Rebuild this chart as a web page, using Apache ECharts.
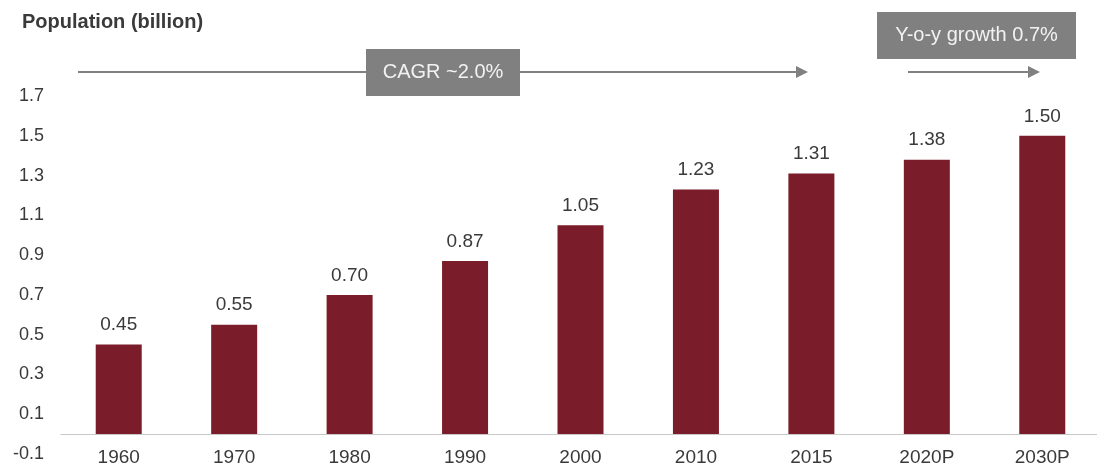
<!DOCTYPE html>
<html><head><meta charset="utf-8">
<script src="https://cdn.jsdelivr.net/npm/echarts@6/dist/echarts.min.js"></script>
<style>html,body{margin:0;padding:0;background:#fff}#c{width:1097px;height:467px}</style>
</head><body><div id="c"></div>
<script>
var categories = ['1960','1970','1980','1990','2000','2010','2015','2020P','2030P'];
var population = [0.45,0.55,0.70,0.87,1.05,1.23,1.31,1.38,1.50];
var yTicks = {min:-0.1, max:1.7, interval:0.2};
var titleText = 'Population (billion)';
var cagrText = 'CAGR ~2.0%';
var yoyText = 'Y-o-y growth 0.7%';

var chart = echarts.init(document.getElementById('c'));
var font = 'Liberation Sans, Arial, sans-serif';
var gray = '#808080';
var txt = '#3a3a3a';
function arrow(x1, x2, y) {
  return [
    {type:'line', shape:{x1:x1,y1:y,x2:x2-10,y2:y}, style:{stroke:gray,lineWidth:2}},
    {type:'polygon', shape:{points:[[x2-12,y-6],[x2,y],[x2-12,y+6]]}, style:{fill:gray}}
  ];
}
function box(x, y, w, h, t) {
  return {type:'group', x:x, y:y, children:[
    {type:'rect', shape:{x:0,y:0,width:w,height:h}, style:{fill:gray}},
    {type:'text', x:w/2, y:h/2, style:{text:t, fill:'#f2f2f2', font:'20px '+font, align:'center', verticalAlign:'middle'}}
  ]};
}
chart.setOption({
  animation:false,
  textStyle:{fontFamily:font},
  grid:{left:61, top:96, width:1039, bottom:13, containLabel:false, outerBoundsMode:'none'},
  xAxis:{type:'category', data:categories,
    axisLine:{lineStyle:{color:'#c8c8c8',width:1}},
    axisTick:{show:false},
    axisLabel:{color:txt, fontSize:19, margin:-6}},
  yAxis:{type:'value', min:yTicks.min, max:yTicks.max, interval:yTicks.interval,
    splitLine:{show:false}, axisLine:{show:false}, axisTick:{show:false},
    axisLabel:{color:txt, fontSize:18, margin:17, padding:[3,0,0,0], formatter:function(v){return v.toFixed(1);}}},
  series:[{type:'bar', data:population, barWidth:46,
    itemStyle:{color:'#7b1c2a'},
    label:{show:true, position:'top', distance:10, color:txt, fontSize:19,
      formatter:function(p){return p.value.toFixed(2);}}}],
  graphic:[
    {type:'text', left:22, top:12, style:{text:titleText, font:'bold 20px '+font, fill:txt}}
  ].concat(arrow(78, 808, 72)).concat(arrow(908, 1040, 72)).concat([
    box(366, 49, 154, 47, cagrText),
    box(877, 12, 199, 47, yoyText)
  ])
});
</script></body></html>
